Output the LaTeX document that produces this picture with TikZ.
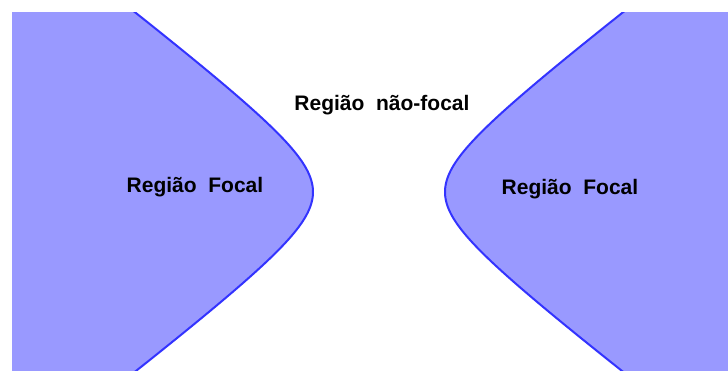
\documentclass[tikz,border=0pt]{standalone}
\usepackage{fontspec}
\setmainfont{Liberation Sans}
\definecolor{regfill}{HTML}{9999FF}
\definecolor{regline}{HTML}{3333FF}
\tikzset{
  lbl/.style={font=\bfseries\fontsize{21}{24}\selectfont, inner sep=0pt},
  edge/.style={draw=regline, line width=2pt},
}
\begin{document}
\begin{tikzpicture}[x=1pt,y=1pt]
\useasboundingbox (0,0) rectangle (728,370);
\begin{scope}
  \clip (12,0) rectangle (728,357);
  % left focal region
  \fill[regfill] (12,375) -- plot[domain=-2.1:2.1, samples=120, variable=\t]
      ({379-66*cosh(\t)}, {178-50.5*sinh(\t)}) -- (12,-5) -- cycle;
  \draw[edge] plot[domain=-2.1:2.1, samples=120, variable=\t]
      ({379-66*cosh(\t)}, {178-50.5*sinh(\t)});
  % right focal region
  \fill[regfill] (730,375) -- plot[domain=-2.1:2.1, samples=120, variable=\t]
      ({379+66*cosh(\t)}, {178-50.5*sinh(\t)}) -- (730,-5) -- cycle;
  \draw[edge] plot[domain=-2.1:2.1, samples=120, variable=\t]
      ({379+66*cosh(\t)}, {178-50.5*sinh(\t)});
\end{scope}
\node[lbl] (nf) at (382,265) {Região\ \ não-focal};
\node[lbl] (fl) at (195,183) {Região\ \ Focal};
\node[lbl] (fr) at (570,181) {Região\ \ Focal};
\end{tikzpicture}
\end{document}
